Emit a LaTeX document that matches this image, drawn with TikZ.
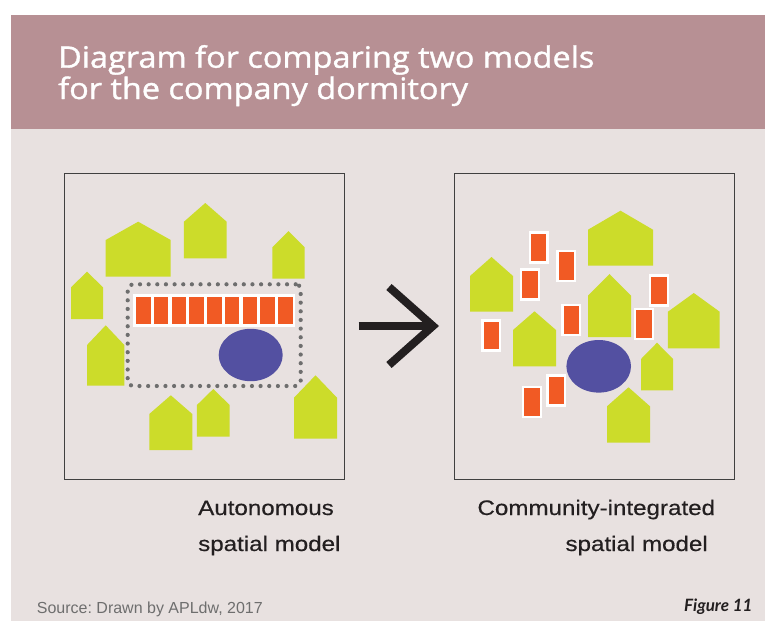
\documentclass[tikz,border=0pt]{standalone}
\usepackage{fontspec}
\setmainfont{Liberation Sans}
\newfontfamily\titlefont[FakeStretch=1.1, FakeBold=1.2]{Open Sans}
\newfontfamily\modelfont[FakeStretch=1.15, FakeBold=0.4]{Liberation Sans}
\newfontfamily\figfont{Lato}
\usetikzlibrary{arrows.meta, positioning}
\frenchspacing

\definecolor{bandmauve}{RGB}{183,144,148}
\definecolor{paper}{RGB}{232,225,224}
\definecolor{lime}{RGB}{204,220,42}
\definecolor{dormorange}{RGB}{241,90,36}
\definecolor{hallpurple}{RGB}{83,80,161}
\definecolor{dotgray}{RGB}{110,110,110}
\definecolor{ink}{RGB}{35,31,32}

\tikzset{
  frame/.style={draw=black!75, line width=1pt, minimum width=280pt, minimum height=306pt, inner sep=0pt},
  room/.style={fill=dormorange, draw=white, line width=2.3pt, minimum width=17.5pt, minimum height=30pt, inner sep=0pt},
  cell/.style={fill=dormorange, minimum width=14.7pt, minimum height=27.6pt, inner sep=0pt},
  fence/.style={draw=dotgray, rounded corners=5pt, line width=4.2pt, line cap=round, dash pattern=on 0pt off 8.65pt, inner sep=0pt},
  modeltext/.style={anchor=base west, inner sep=0pt, text=ink, font=\modelfont\fontsize{21}{21}\selectfont}
}

% house: centre x, bottom y, width, eave y, peak y
\newcommand{\house}[5]{\fill[lime] ({#1-#3/2},#2) -- ({#1-#3/2},#4) -- (#1,#5) -- ({#1+#3/2},#4) -- ({#1+#3/2},#2) -- cycle;}

\begin{document}
\begin{tikzpicture}[x=1pt, y=-1pt]
    \useasboundingbox (0,0) rectangle (765,621);
    \fill[white] (0,0) rectangle (765,621);

    % Title band and page
    \fill[bandmauve] (11,15) rectangle (765,129);
    \fill[paper] (11,129) rectangle (765,621);
    \node[anchor=base west, inner sep=0pt, text=white, font=\titlefont\fontsize{29.5}{31}\selectfont] (title1) at (58,67.7) {Diagram for comparing two models};
    \node[anchor=base west, inner sep=0pt, text=white, font=\titlefont\fontsize{29.5}{31}\selectfont] (title2) at (58,99) {for the company dormitory};

    % Frames
    \node[frame] (lbox) at (204,326) {};
    \node[frame] (rbox) at (594.5,326) {};

    % Autonomous model
    \house{138.2}{276.7}{65}{240}{221.7}
    \house{205.3}{258.3}{42.7}{221.7}{203}
    \house{288.5}{278.7}{32.4}{247.3}{231}
    \house{87}{319}{32}{287.3}{271.7}
    \house{105.7}{385.7}{37.3}{345}{325.3}
    \house{170.8}{450}{43}{414}{395.3}
    \house{213.3}{436.7}{32.7}{405}{389}
    \house{315.5}{438.7}{43}{397.7}{375.3}
    \node[fence, minimum width=173pt, minimum height=101.7pt] (fence) at (214.2,335.15) {};
    \node[fill=white, minimum width=162pt, minimum height=32.7pt, inner sep=0pt] (strip) at (214.3,310.35) {};
    \foreach \i in {1,...,9}
        \node[cell] (cell\i) at ({143.35+(\i-1)*17.75},310.5) {};
    \fill[hallpurple] (250.7,355) ellipse (32 and 26.2);

    % Community-integrated model
    \house{620.5}{265.7}{65}{229.7}{210.7}
    \house{491.5}{311.7}{43}{276}{257}
    \house{609.5}{337}{43}{295.7}{274}
    \house{534.5}{366.3}{43}{330}{311.3}
    \house{693.8}{348.3}{51.7}{311.7}{293}
    \house{657}{390.3}{32}{359}{342.7}
    \house{628.5}{442.7}{43}{406.3}{387.3}
    \node[room] (room1) at (538.8,247.5) {};
    \node[room] (room2) at (566.3,265.8) {};
    \node[room] (room3) at (530,284.5) {};
    \node[room] (room4) at (659,290.5) {};
    \node[room] (room5) at (571.3,320.3) {};
    \node[room] (room6) at (644,323.7) {};
    \node[room] (room7) at (491.3,335.5) {};
    \node[room] (room8) at (556.2,390.5) {};
    \node[room] (room9) at (532,402.2) {};
    \fill[hallpurple] (598.7,366.3) ellipse (32.3 and 26.3);

    % Arrow
    \draw[-{Straight Barb[length=44pt, width=78pt]}, line width=8pt, ink, shorten <=14pt, shorten >=15pt] (lbox.east) -- (rbox.west);

    % Captions
    \node[modeltext] (auto1) at (198,515) {Autonomous};
    \node[modeltext] (auto2) at (198,551) {spatial model};
    \node[modeltext] (comm1) at (477.3,515) {Community-integrated};
    \node[modeltext] (comm2) at (565.3,551) {spatial model};
    \node[anchor=base west, inner sep=0pt, text=dotgray, font=\fontsize{16}{16}\selectfont] (source) at (36.7,613.3) {Source: Drawn by APLdw, 2017};
    \node[anchor=base east, inner sep=0pt, text=ink, font=\figfont\bfseries\itshape\fontsize{17}{17}\selectfont] (fig) at (752.7,611.7) {Figure 11};
\end{tikzpicture}
\end{document}
